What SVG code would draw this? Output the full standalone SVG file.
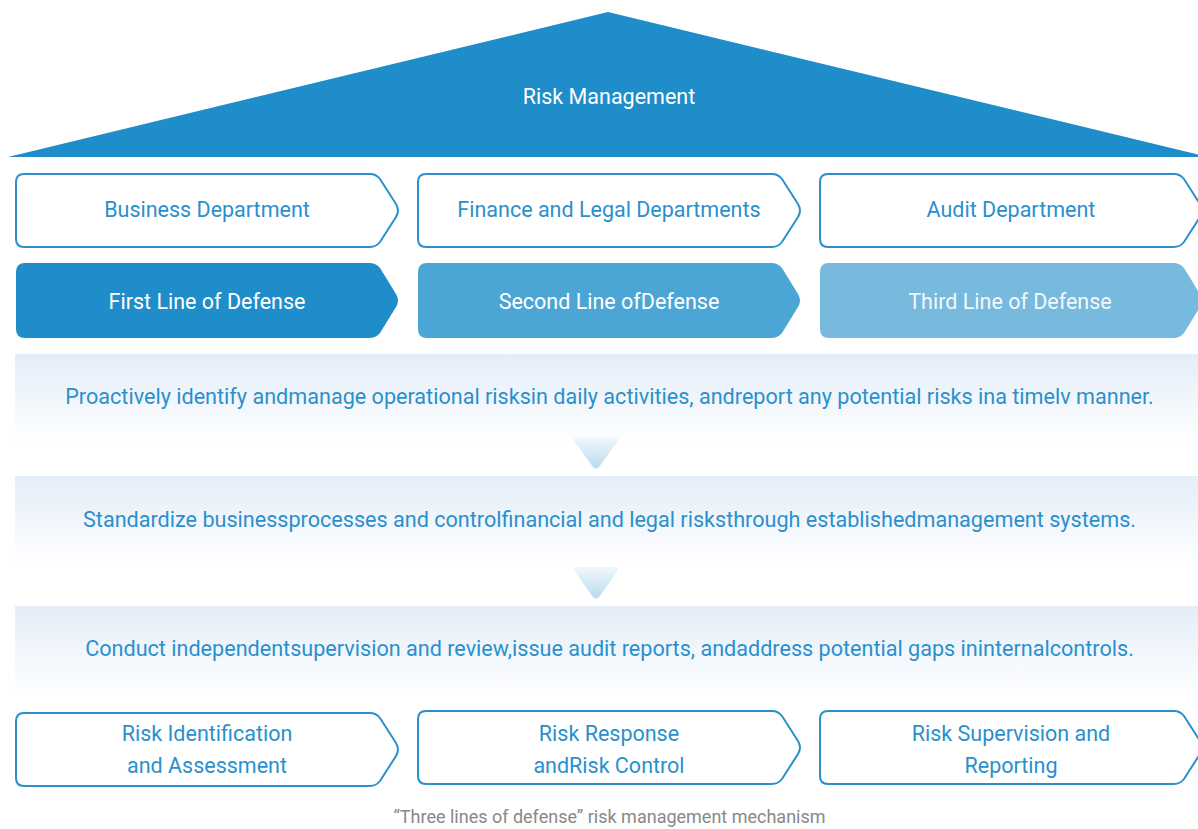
<svg xmlns="http://www.w3.org/2000/svg" width="1198" height="829" viewBox="0 0 1198 829">
  <defs>
    <style>
      .t { font-family: Roboto, "Liberation Sans", sans-serif; text-anchor: middle; }
      .lbl { font-size: 21.5px; fill: #2a90cd; }
      .band { font-size: 21.6px; fill: #2a90cd; }
      .wh { font-size: 21.5px; fill: #ffffff; }
      .cap { font-size: 18px; fill: #888888; }
      .outline { fill: #ffffff; stroke: #2a90cd; stroke-width: 2; }
    </style>
    <linearGradient id="bandGrad" x1="0" y1="0" x2="0" y2="1">
      <stop offset="0" stop-color="#e4edf8"/>
      <stop offset="1" stop-color="#ffffff"/>
    </linearGradient>
    <linearGradient id="triGrad" x1="0" y1="0" x2="0" y2="1">
      <stop offset="0" stop-color="#f2f8fc"/>
      <stop offset="1" stop-color="#b7dbef"/>
    </linearGradient>
    <!-- chevron box, 73px tall, drawn at origin -->
    <path id="chev" d="M8 0 H354 Q360 0 364 5 L380 30 Q384 36.5 380 43 L364 68 Q360 73 354 73 H8 Q0 73 0 65 V8 Q0 0 8 0 Z"/>
    <path id="chevFill" d="M9 0 H353 Q360 0 364 5 L380 31 Q384 37.5 380 44 L364 70 Q360 75 353 75 H9 Q0 75 0 66 V9 Q0 0 9 0 Z"/>
    <path id="tri" d="M-19 0 H19 Q23 0 21 5 L3 30 Q0 33 -3 30 L-21 5 Q-23 0 -19 0 Z"/>
  </defs>

  <!-- roof -->
  <g id="roof">
    <polygon points="8,157 608,12 1208,157" fill="#1e8dc9"/>
    <text class="t wh" x="609" y="104">Risk Management</text>
  </g>

  <!-- departments -->
  <g id="dept-business">
    <use href="#chev" class="outline" transform="translate(16,174)"/>
    <text class="t lbl" x="207" y="217">Business Department</text>
  </g>
  <g id="dept-finance">
    <use href="#chev" class="outline" transform="translate(418,174)"/>
    <text class="t lbl" x="609" y="217">Finance and Legal Departments</text>
  </g>
  <g id="dept-audit">
    <use href="#chev" class="outline" transform="translate(820,174)"/>
    <text class="t lbl" x="1011" y="217">Audit Department</text>
  </g>

  <!-- lines of defense -->
  <g id="line-first">
    <use href="#chevFill" fill="#1e8dc9" transform="translate(16,263)"/>
    <text class="t wh" x="207" y="309">First Line of Defense</text>
  </g>
  <g id="line-second">
    <use href="#chevFill" fill="#4ba6d6" transform="translate(418,263)"/>
    <text class="t wh" x="609" y="309">Second Line ofDefense</text>
  </g>
  <g id="line-third">
    <use href="#chevFill" fill="#78b9de" transform="translate(820,263)"/>
    <text class="t wh" x="1010" y="309" fill-opacity="0.92">Third Line of Defense</text>
  </g>

  <!-- descriptions -->
  <g id="desc-first">
    <rect x="15" y="354" width="1183" height="90" fill="url(#bandGrad)"/>
    <text class="t band" x="609.5" y="404">Proactively identify andmanage operational risksin daily activities, andreport any potential risks ina timelv manner.</text>
  </g>
  <g id="desc-second">
    <rect x="15" y="476" width="1183" height="90" fill="url(#bandGrad)"/>
    <text class="t band" x="609.5" y="527">Standardize businessprocesses and controlfinancial and legal risksthrough establishedmanagement systems.</text>
  </g>
  <g id="desc-third">
    <rect x="15" y="606" width="1183" height="90" fill="url(#bandGrad)"/>
    <text class="t band" x="609.5" y="656">Conduct independentsupervision and review,issue audit reports, andaddress potential gaps ininternalcontrols.</text>
  </g>

  <!-- flow between descriptions -->
  <g id="connectors">
    <use href="#tri" fill="url(#triGrad)" transform="translate(596,437)"/>
    <use href="#tri" fill="url(#triGrad)" transform="translate(596,567)"/>
  </g>

  <!-- risk process stages -->
  <g id="stage-identify">
    <use href="#chev" class="outline" transform="translate(16,713)"/>
    <text class="t lbl" x="207" y="741">Risk Identification</text>
    <text class="t lbl" x="207" y="773">and Assessment</text>
  </g>
  <g id="stage-response">
    <use href="#chev" class="outline" transform="translate(418,711)"/>
    <text class="t lbl" x="609" y="741">Risk Response</text>
    <text class="t lbl" x="609" y="773">andRisk Control</text>
  </g>
  <g id="stage-supervision">
    <use href="#chev" class="outline" transform="translate(820,711)"/>
    <text class="t lbl" x="1011" y="741">Risk Supervision and</text>
    <text class="t lbl" x="1011" y="773">Reporting</text>
  </g>

  <g id="caption">
    <text class="t cap" x="609.5" y="823">“Three lines of defense” risk management mechanism</text>
  </g>
</svg>
